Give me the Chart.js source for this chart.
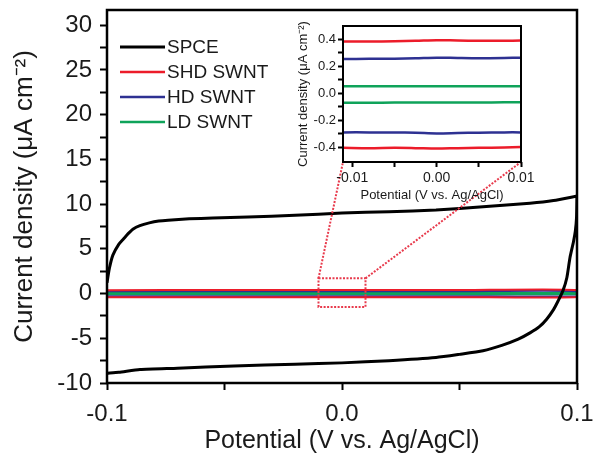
<!DOCTYPE html>
<html>
<head>
<meta charset="utf-8">
<script src="https://cdn.jsdelivr.net/npm/chart.js@4.4.0/dist/chart.umd.min.js"></script>
<style>
  html, body { margin: 0; padding: 0; background: #fff; }
  #wrap { position: relative; width: 594px; height: 465px; }
  #main { position: absolute; left: 0; top: 0; }
  #inset { position: absolute; left: 292px; top: 20px; }
</style>
</head>
<body>
<div id="wrap">
  <canvas id="main" width="594" height="465"></canvas>
  <canvas id="inset" width="250" height="185"></canvas>
</div>
<script>
// --- Dados do gráfico principal ---
const spceFwdX = [-0.1, -0.099, -0.0975, -0.095, -0.093, -0.091, -0.089, -0.086, -0.082, -0.078, -0.074, -0.065, -0.055, -0.04, -0.02, 0, 0.02, 0.04, 0.06, 0.08, 0.09, 0.1];
const spceFwdY = [1.2, 2.8, 4.3, 5.5, 6.1, 6.7, 7.2, 7.6, 7.9, 8.1, 8.2, 8.35, 8.45, 8.55, 8.75, 9.0, 9.15, 9.35, 9.7, 10.1, 10.4, 10.9];
const spceRevX = [0.1, 0.0998, 0.0993, 0.0985, 0.097, 0.0957, 0.094, 0.092, 0.09, 0.087, 0.084, 0.08, 0.075, 0.068, 0.06, 0.05, 0.04, 0.02, 0, -0.02, -0.046, -0.07, -0.086, -0.095, -0.1];
const spceRevY = [10.9, 8.5, 7.0, 5.8, 4.0, 1.8, 0.3, -0.8, -1.8, -2.9, -3.7, -4.4, -5.1, -5.8, -6.4, -6.8, -7.15, -7.5, -7.75, -7.9, -8.1, -8.35, -8.5, -8.8, -8.9];

const loopX = [-0.1, -0.05, 0, 0.05, 0.1];
const shdTop = [0.38, 0.39, 0.40, 0.39, 0.40];
const shdBottom = [-0.40, -0.41, -0.41, -0.40, -0.39];
const hdTop = [0.26, 0.26, 0.27, 0.26, 0.27];
const hdBottom = [-0.29, -0.29, -0.30, -0.29, -0.29];
const ldTop = [0.05, 0.05, 0.05, 0.05, 0.05];
const ldBottom = [-0.07, -0.07, -0.07, -0.07, -0.065];

const xTickValues = [-0.1, -0.05, 0, 0.05, 0.1];
const xTickLabels = ['-0.1', '', '0.0', '', '0.1'];
const yTickValues = [-10, -7.5, -5, -2.5, 0, 2.5, 5, 7.5, 10, 12.5, 15, 17.5, 20, 22.5, 25, 27.5, 30];
const yTickLabels = ['-10', '', '-5', '', '0', '', '5', '', '10', '', '15', '', '20', '', '25', '', '30'];

// --- Dados do detalhe (inset) ---
const insetX = [-0.0111, -0.008, -0.005, -0.0025, 0, 0.0025, 0.005, 0.008, 0.01];
const insetShdTop = [0.385, 0.385, 0.387, 0.39, 0.395, 0.392, 0.39, 0.39, 0.392];
const insetShdBottom = [-0.405, -0.408, -0.405, -0.407, -0.41, -0.407, -0.405, -0.402, -0.398];
const insetHdTop = [0.255, 0.256, 0.257, 0.26, 0.265, 0.262, 0.26, 0.262, 0.265];
const insetHdBottom = [-0.29, -0.29, -0.291, -0.293, -0.298, -0.295, -0.292, -0.29, -0.29];
const insetLdTop = [0.052, 0.052, 0.052, 0.052, 0.052, 0.052, 0.052, 0.052, 0.052];
const insetLdBottom = [-0.07, -0.07, -0.069, -0.069, -0.068, -0.068, -0.068, -0.067, -0.066];

const insetXTickValues = [-0.01, -0.005, 0, 0.005, 0.01];
const insetXTickLabels = ['-0.01', '', '0.00', '', '0.01'];
const insetYTickValues = [-0.4, -0.3, -0.2, -0.1, 0, 0.1, 0.2, 0.3, 0.4];
const insetYTickLabels = ['-0.4', '', '-0.2', '', '0.0', '', '0.2', '', '0.4'];

const seriesNames = ['SPCE', 'SHD SWNT', 'HD SWNT', 'LD SWNT'];
const seriesColors = ['#000000', '#ec1c2a', '#2e3192', '#0fa35a'];

const FONT = "'Liberation Sans', Arial, sans-serif";
const TEXT = '#1a1a1a';

// --- Helpers ---
const pts = (xs, ys) => xs.map((x, i) => ({ x: x, y: ys[i] }));
const loop = (xs, top, bottom) => pts(xs, top).concat(pts(xs.slice().reverse(), bottom.slice().reverse()));

const framePlugin = {
    id: 'frame',
    afterDatasetsDraw(chart, args, opts) {
        const { ctx, chartArea: a } = chart;
        ctx.save();
        ctx.strokeStyle = '#000';
        ctx.lineWidth = opts.width || 2;
        ctx.strokeRect(a.left, a.top, a.right - a.left, a.bottom - a.top);
        ctx.restore();
    }
};

function axis(tickValues, tickLabels, min, max, fontSize, tickLen, pad, extra) {
    return Object.assign({
        type: 'linear',
        min: min,
        max: max,
        afterBuildTicks: (s) => { s.ticks = tickValues.map(v => ({ value: v })); },
        ticks: {
            autoSkip: false,
            maxRotation: 0,
            padding: pad,
            color: TEXT,
            font: { family: FONT, size: fontSize },
            callback: (v, i) => tickLabels[i]
        },
        grid: { drawOnChartArea: false, drawTicks: true, tickLength: tickLen, tickWidth: 2, tickColor: '#000' },
        border: { display: false }
    }, extra);
}

// --- Inset ---
const insetDatasets = [
    [insetShdTop, 1], [insetShdBottom, 1],
    [insetHdTop, 2], [insetHdBottom, 2],
    [insetLdTop, 3], [insetLdBottom, 3]
].map(([ys, c]) => ({
    data: pts(insetX, ys),
    borderColor: seriesColors[c],
    borderWidth: 2.5,
    showLine: true,
    pointRadius: 0,
    tension: 0.3
}));

const insetChart = new Chart(document.getElementById('inset').getContext('2d'), {
    type: 'scatter',
    data: { datasets: insetDatasets },
    options: {
        responsive: false,
        animation: false,
        layout: { padding: { top: 6, right: 21, left: 0, bottom: 0 } },
        plugins: { legend: { display: false }, tooltip: { enabled: false }, frame: { width: 2 } },
        scales: {
            x: axis(insetXTickValues, insetXTickLabels, -0.0111, 0.01, 14, 5, 3, {
                title: { display: true, text: 'Potential (V vs. Ag/AgCl)', color: TEXT, font: { family: FONT, size: 13 }, padding: { top: 0, bottom: 2 } },
                afterFit: (s) => { s.height = 43; s.paddingLeft = 0; s.paddingRight = 0; }
            }),
            y: axis(insetYTickValues, insetYTickLabels, -0.51, 0.5, 13, 5, 2, {
                title: { display: true, text: 'Current density (μA cm⁻²)', color: TEXT, font: { family: FONT, size: 13 }, padding: { top: 4, bottom: 0 } },
                afterFit: (s) => { s.width = 51; s.paddingTop = 0; s.paddingBottom = 0; }
            })
        }
    },
    plugins: [framePlugin]
});

// --- Plugins do gráfico principal ---
const zoomBoxPlugin = {
    id: 'zoomBox',
    afterDatasetsDraw(chart) {
        const { ctx, scales: { x, y } } = chart;
        const l = x.getPixelForValue(-0.01), r = x.getPixelForValue(0.01);
        const t = y.getPixelForValue(1.7), b = y.getPixelForValue(-1.5);
        const ia = insetChart.chartArea;
        const ox = 292, oy = 20;
        ctx.save();
        ctx.strokeStyle = '#e83a4c';
        ctx.lineWidth = 2;
        ctx.setLineDash([2, 1.5]);
        ctx.strokeRect(l, t, r - l, b - t);
        ctx.beginPath();
        ctx.moveTo(l, t); ctx.lineTo(ox + ia.left, oy + ia.bottom);
        ctx.moveTo(r, t); ctx.lineTo(ox + ia.right, oy + ia.bottom);
        ctx.stroke();
        ctx.restore();
    }
};

const legendPlugin = {
    id: 'customLegend',
    afterDraw(chart) {
        const ctx = chart.ctx;
        ctx.save();
        ctx.font = `19px ${FONT}`;
        ctx.textBaseline = 'middle';
        seriesNames.forEach((name, i) => {
            const yy = 47 + i * 25;
            ctx.strokeStyle = seriesColors[i];
            ctx.lineWidth = i === 0 ? 3 : 2.5;
            ctx.beginPath();
            ctx.moveTo(120, yy);
            ctx.lineTo(165, yy);
            ctx.stroke();
            ctx.fillStyle = TEXT;
            ctx.fillText(name, 167, yy + 1);
        });
        ctx.restore();
    }
};

// --- Gráfico principal ---
const mainDatasets = [
    { label: seriesNames[0], data: pts(spceFwdX, spceFwdY).concat(pts(spceRevX, spceRevY)), borderColor: seriesColors[0], borderWidth: 3 },
    { label: seriesNames[1], data: loop(loopX, shdTop, shdBottom), borderColor: seriesColors[1], borderWidth: 2 },
    { label: seriesNames[2], data: loop(loopX, hdTop, hdBottom), borderColor: seriesColors[2], borderWidth: 2 },
    { label: seriesNames[3], data: loop(loopX, ldTop, ldBottom), borderColor: seriesColors[3], borderWidth: 2 }
].map(d => Object.assign(d, { showLine: true, pointRadius: 0, tension: 0.2 }));

new Chart(document.getElementById('main').getContext('2d'), {
    type: 'scatter',
    data: { datasets: mainDatasets },
    options: {
        responsive: false,
        animation: false,
        layout: { padding: { top: 10, right: 17, left: 0, bottom: 0 } },
        plugins: { legend: { display: false }, tooltip: { enabled: false }, frame: { width: 2.5 } },
        scales: {
            x: axis(xTickValues, xTickLabels, -0.1, 0.1, 24, 7, 10, {
                title: { display: true, text: 'Potential (V vs. Ag/AgCl)', color: TEXT, font: { family: FONT, size: 25 }, padding: { top: 0, bottom: 9 } },
                afterFit: (s) => { s.height = 82; s.paddingLeft = 0; s.paddingRight = 0; }
            }),
            y: axis(yTickValues, yTickLabels, -10, 31.7, 24, 7, 8, {
                title: { display: true, text: 'Current density (μA cm⁻²)', color: TEXT, font: { family: FONT, size: 26 }, padding: { top: 9, bottom: 0 } },
                afterFit: (s) => { s.width = 107; s.paddingTop = 0; s.paddingBottom = 0; }
            })
        }
    },
    plugins: [framePlugin, zoomBoxPlugin, legendPlugin]
});
</script>
</body>
</html>
